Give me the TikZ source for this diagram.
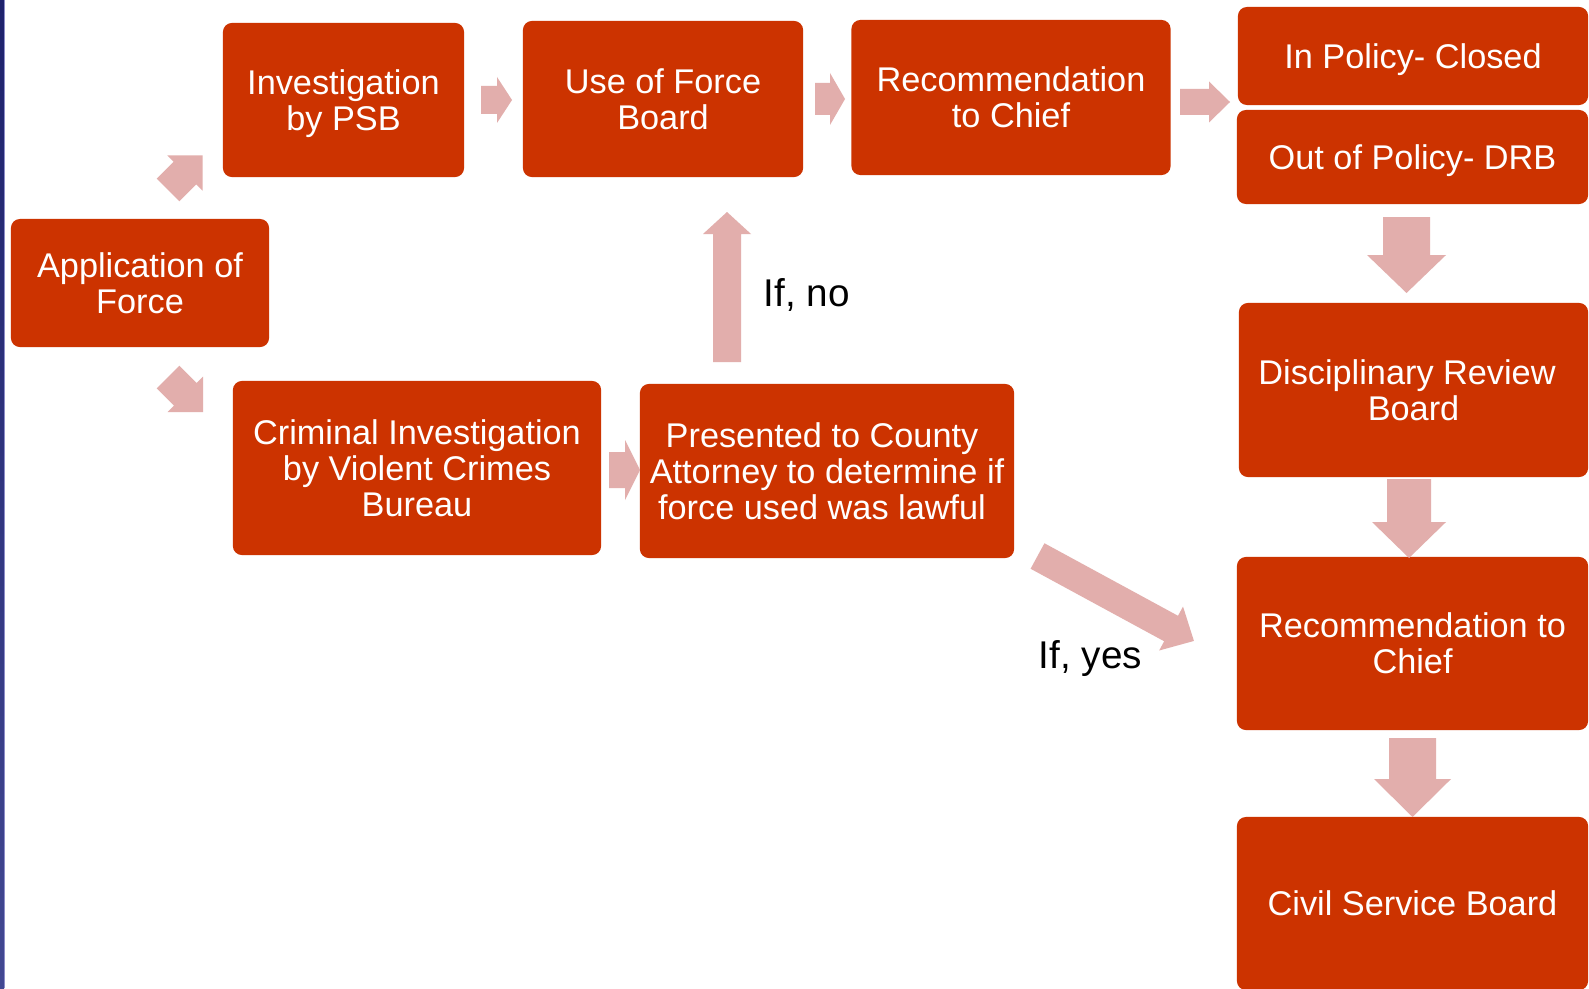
\documentclass[tikz,border=0pt]{standalone}
\usepackage{fontspec}
\setmainfont{Liberation Sans}
\definecolor{boxred}{RGB}{204,51,0}
\definecolor{arrowpink}{RGB}{226,174,172}
\definecolor{bartop}{RGB}{30,34,108}
\definecolor{barbot}{RGB}{66,72,146}
\definecolor{barline}{RGB}{140,140,200}
% #1 tail centre, #2 angle, #3 length, #4 shaft width, #5 head width, #6 head length (px)
\newcommand\fatarrow[6]{%
  \fill[arrowpink,shift={#1},rotate=#2] (0,{-#4/2}) -- ({#3-#6},{-#4/2}) -- ({#3-#6},{-#5/2}) -- (#3,0) -- ({#3-#6},{#5/2}) -- ({#3-#6},{#4/2}) -- (0,{#4/2}) -- cycle;}
\tikzset{
  stepbox/.style={rectangle, rounded corners=0.09cm, fill=boxred, text=white, inner sep=0pt,
    align=center, font=\fontsize{9.75}{10.25}\selectfont, text depth=0pt},
  cond/.style={text=black, inner sep=0pt, font=\fontsize{11}{13}\selectfont}
}
\begin{document}
\begin{tikzpicture}[x=0.01cm,y=-0.01cm]
\useasboundingbox (0,0) rectangle (1589,988);
\fill[white] (0,0) rectangle (1589,988);
% left bar
\shade[top color=bartop, bottom color=barbot] (0,0) rectangle (4,988);
\fill[barline] (4,0) rectangle (5,988);

% boxes
\node[stepbox, minimum width=2.58cm, minimum height=1.28cm] (app) at (140,283) {Application of\\Force};
\node[stepbox, minimum width=2.41cm, minimum height=1.54cm] (psb) at (343.5,100) {Investigation\\by PSB};
\node[stepbox, minimum width=2.80cm, minimum height=1.56cm] (uof) at (663,99) {Use of Force\\Board};
\node[stepbox, minimum width=3.19cm, minimum height=1.55cm] (rec1) at (1011,97.5) {Recommendation\\to Chief};
\node[stepbox, minimum width=3.50cm, minimum height=0.98cm] (inpol) at (1413,56) {In Policy- Closed};
\node[stepbox, minimum width=3.51cm, minimum height=0.94cm] (outpol) at (1412.5,157) {Out of Policy- DRB};
\node[stepbox, minimum width=3.49cm, minimum height=1.74cm] (drb) at (1413.5,390) {Disciplinary Review\hspace*{0.13cm}\\Board};
\node[stepbox, minimum width=3.51cm, minimum height=1.73cm] (rec2) at (1412.5,643.5) {Recommendation to\\Chief};
\node[stepbox, minimum width=3.51cm, minimum height=1.73cm] (csb) at (1412.5,903.5) {Civil Service Board};
\node[stepbox, minimum width=3.68cm, minimum height=1.74cm] (crim) at (417,468) {Criminal Investigation\\by Violent Crimes\\Bureau};
\node[stepbox, minimum width=3.74cm, minimum height=1.74cm] (pres) at (827,471) {Presented to County\hspace*{0.1cm}\\Attorney to determine if\hspace*{0.1cm}\\force used was lawful\hspace*{0.1cm}};

% block arrows
\fatarrow{(168,190)}{45}{49}{32}{50}{25}
\fatarrow{(168,377)}{-45}{49.5}{32}{50}{25}
\fatarrow{(481,100)}{0}{31}{28}{46}{15}
\fatarrow{(815,99)}{0}{30}{32}{52}{15}
\fatarrow{(1180,102)}{0}{50}{26}{41}{21}
\fatarrow{(609,470)}{0}{31}{36}{60}{15}
\fatarrow{(727,362)}{90}{150}{28}{48}{22}
\fatarrow{(1037.5,556)}{-28.5}{178}{29}{50}{26}
\fatarrow{(1406.5,217)}{-90}{76}{47}{79}{38}
\fatarrow{(1409,479)}{-90}{79}{44}{74}{36}
\fatarrow{(1412.5,738)}{-90}{79}{47}{77}{38}

% condition labels
\node[cond, anchor=base west] (ifno) at (763,306) {If, no};
\node[cond, anchor=base west] (ifyes) at (1038,668) {If, yes};
\end{tikzpicture}
\end{document}
